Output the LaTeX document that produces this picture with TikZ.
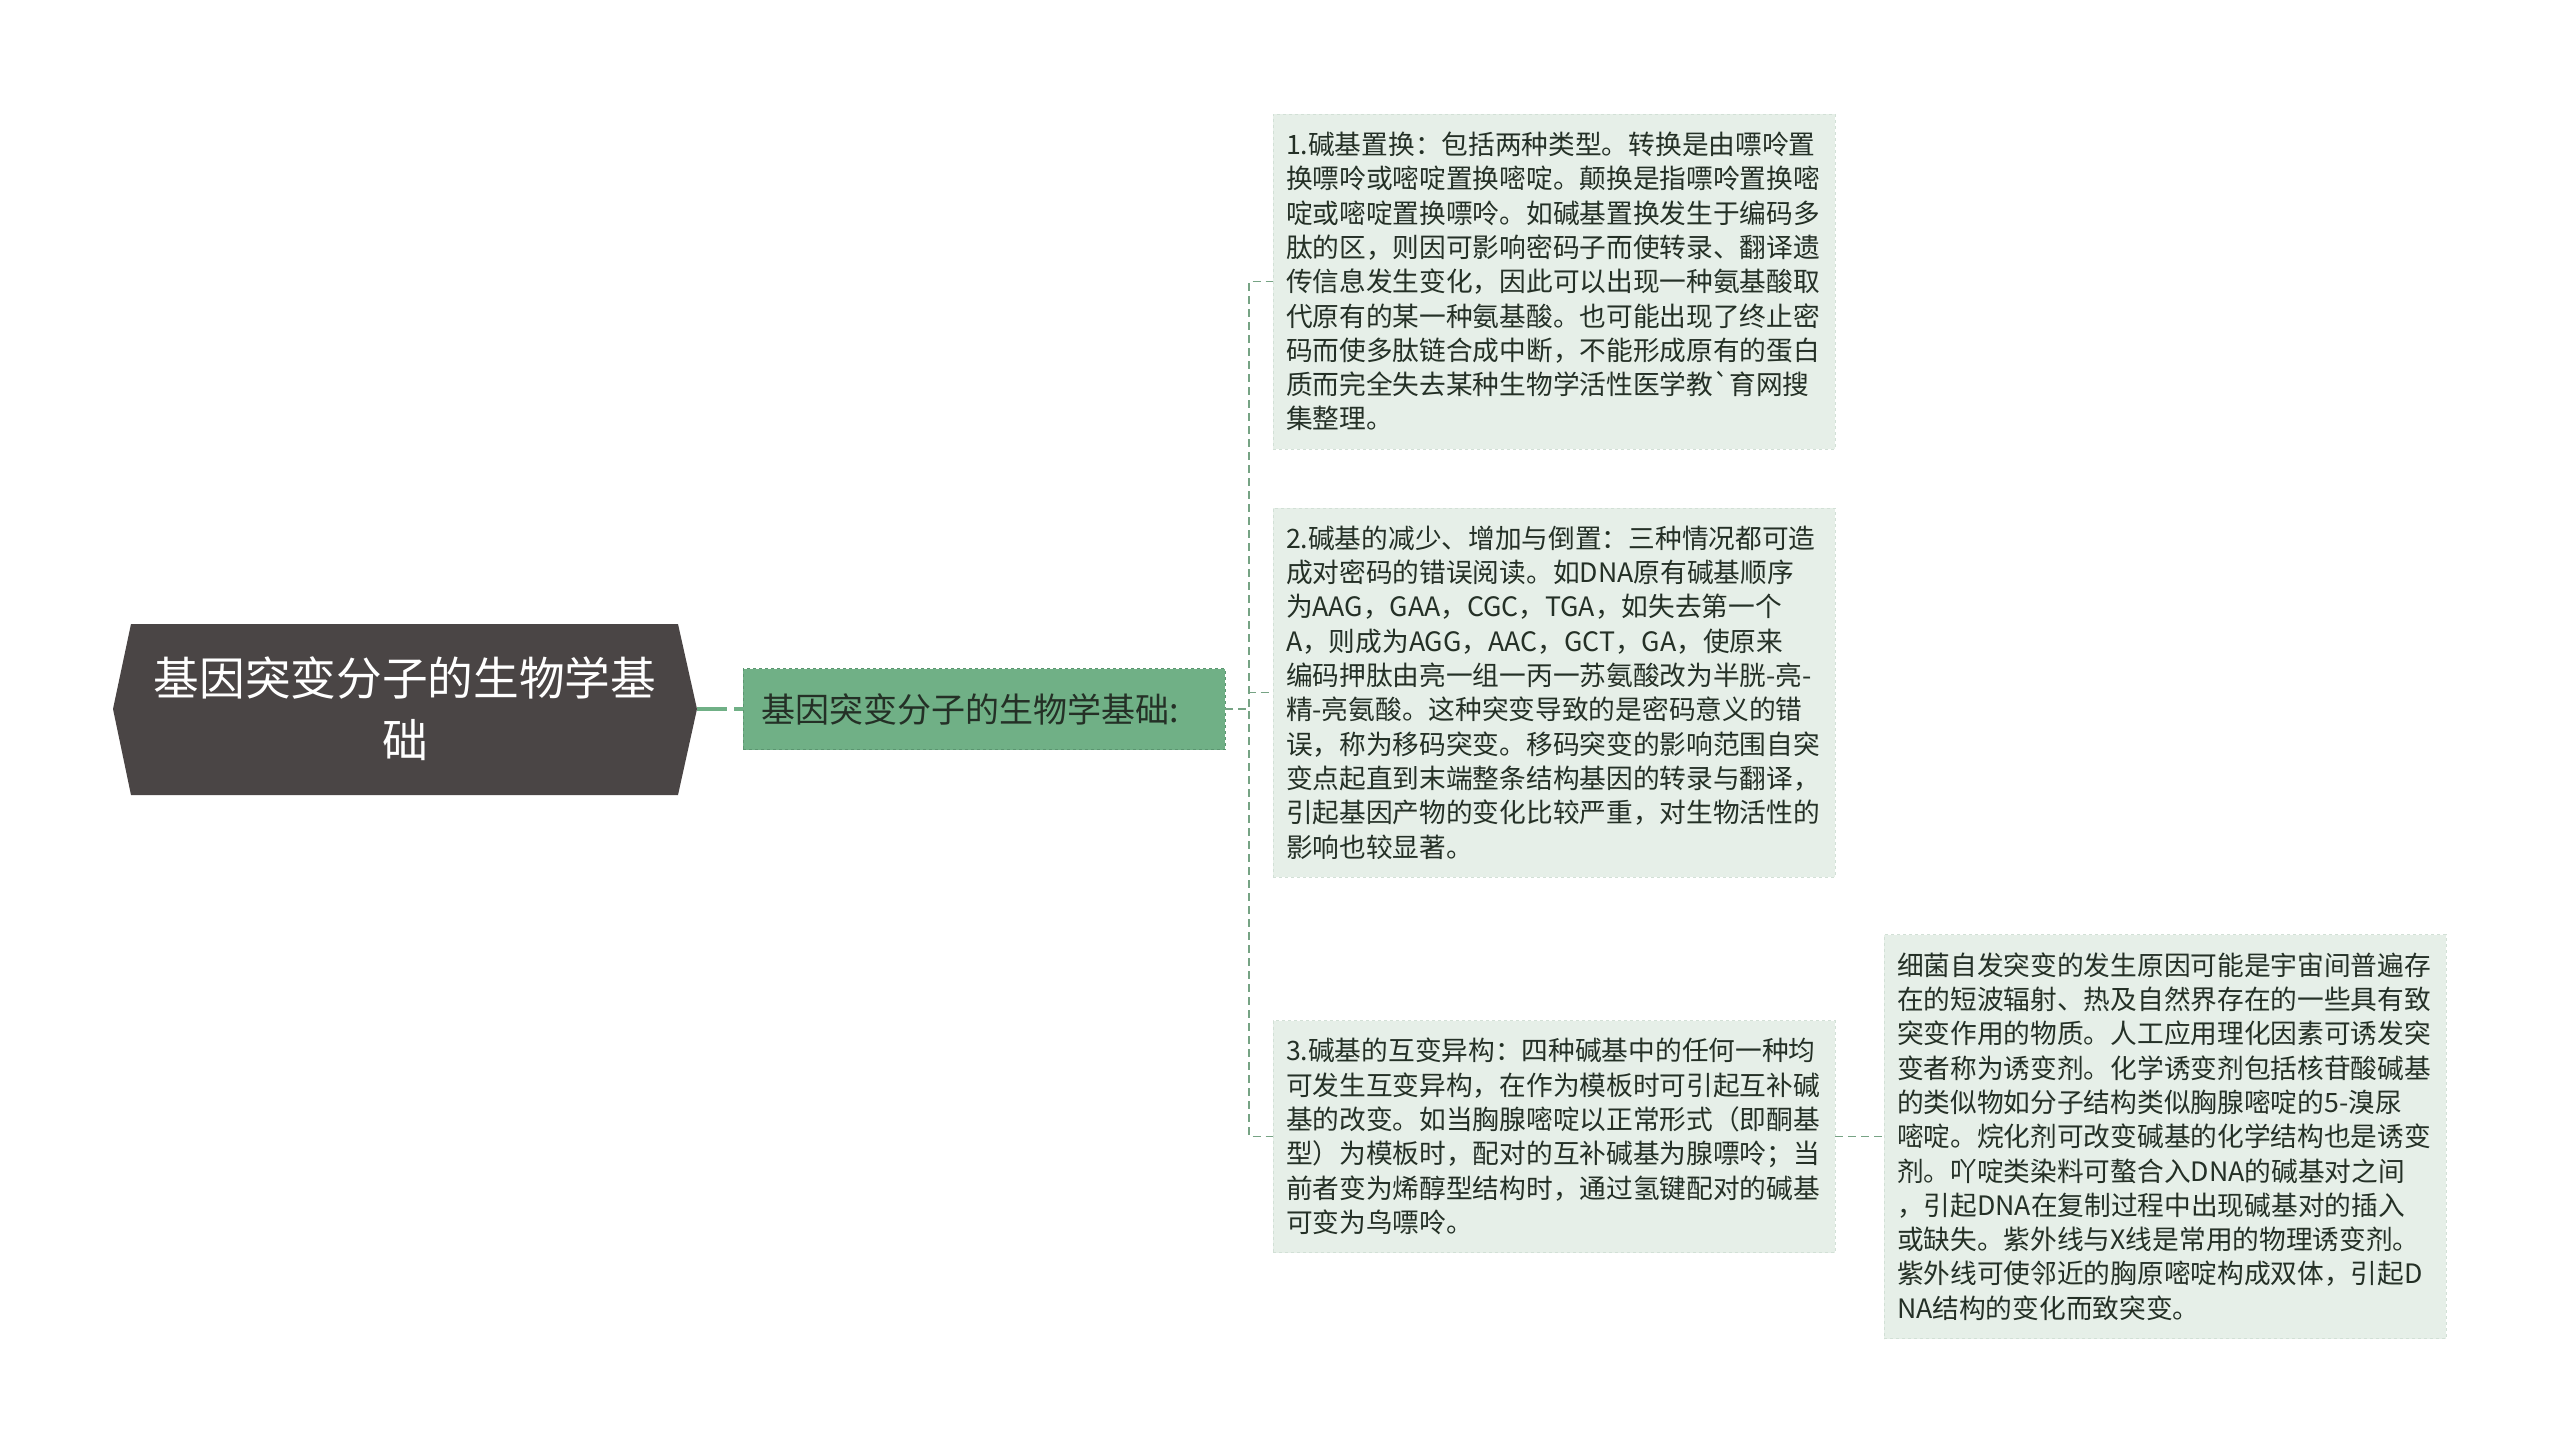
\documentclass[tikz,border=0pt]{standalone}
\usepackage{fontspec}
\newfontfamily\cjkfont{Noto Sans CJK SC}
\usetikzlibrary{positioning}
\definecolor{rootgray}{RGB}{74,69,69}
\definecolor{topicgreen}{RGB}{112,176,134}
\definecolor{topicedge}{RGB}{92,150,113}
\definecolor{notefill}{RGB}{230,239,232}
\definecolor{noteedge}{RGB}{210,224,214}
\definecolor{linkgreen}{RGB}{118,163,132}
\definecolor{notetext}{RGB}{36,48,38}

\begin{document}
\begin{tikzpicture}[x=1pt,y=1pt,yscale=-1,
  roottext/.style={text=white,align=center,font=\cjkfont\fontsize{45.7}{62}\selectfont,inner sep=0pt},
  topicbox/.style={draw=topicedge,dashed,fill=topicgreen,text=notetext,align=left,text width=446pt,inner xsep=18pt,inner ysep=0pt,minimum height=81pt,font=\cjkfont\fontsize{34}{40}\selectfont},
  notebox/.style={draw=noteedge,dashed,fill=notefill,text=notetext,align=left,text width=536pt,inner xsep=13pt,inner ysep=0pt,minimum width=562pt,font=\cjkfont\fontsize{26.7}{34.3}\selectfont},
  link/.style={draw=linkgreen,line width=1.8pt,dash pattern=on 8pt off 5pt},
  rootlink/.style={draw=topicgreen,line width=4pt,dash pattern=on 30pt off 7pt}]
%set diagram size 2560 x 1453
\fill[white] (0,0) rectangle (2560,1453);
\path[use as bounding box] (0,0) rectangle (2560,1453);

%Shape: root hexagon
\fill[rootgray] (113,709) -- (131,624) -- (678,624) -- (697,709) -- (678,795) -- (131,795) -- cycle;
\coordinate (rootR) at (697,709);
% Text Node
\node[roottext] (root) at (405,709) {基因突变分子的生物学基\\础};

% Text Node
\node[topicbox] (topic) at (984,709) {基因突变分子的生物学基础:};

% Text Node
\node[notebox,minimum height=335pt] (note1) at (1554,281.5) {1.碱基置换：包括两种类型。转换是由嘌呤置\\换嘌呤或嘧啶置换嘧啶。颠换是指嘌呤置换嘧\\啶或嘧啶置换嘌呤。如碱基置换发生于编码多\\肽的区，则因可影响密码子而使转录、翻译遗\\传信息发生变化，因此可以出现一种氨基酸取\\代原有的某一种氨基酸。也可能出现了终止密\\码而使多肽链合成中断，不能形成原有的蛋白\\质而完全失去某种生物学活性医学教\symbol{96}育网搜\\集整理。};
% Text Node
\node[notebox,minimum height=369pt] (note2) at (1554,692.5) {2.碱基的减少、增加与倒置：三种情况都可造\\成对密码的错误阅读。如DNA原有碱基顺序\\为AAG，GAA，CGC，TGA，如失去第一个\\A，则成为AGG，AAC，GCT，GA，使原来\\编码押肽由亮一组一丙一苏氨酸改为半胱-亮-\\精-亮氨酸。这种突变导致的是密码意义的错\\误，称为移码突变。移码突变的影响范围自突\\变点起直到末端整条结构基因的转录与翻译，\\引起基因产物的变化比较严重，对生物活性的\\影响也较显著。};
% Text Node
\node[notebox,minimum height=232pt] (note3) at (1554,1136.5) {3.碱基的互变异构：四种碱基中的任何一种均\\可发生互变异构，在作为模板时可引起互补碱\\基的改变。如当胸腺嘧啶以正常形式（即酮基\\型）为模板时，配对的互补碱基为腺嘌呤；当\\前者变为烯醇型结构时，通过氢键配对的碱基\\可变为鸟嘌呤。};
% Text Node
\node[notebox,minimum height=404pt] (note4) at (2165,1136.5) {细菌自发突变的发生原因可能是宇宙间普遍存\\在的短波辐射、热及自然界存在的一些具有致\\突变作用的物质。人工应用理化因素可诱发突\\变者称为诱变剂。化学诱变剂包括核苷酸碱基\\的类似物如分子结构类似胸腺嘧啶的5-溴尿\\嘧啶。烷化剂可改变碱基的化学结构也是诱变\\剂。吖啶类染料可螯合入DNA的碱基对之间\\，引起DNA在复制过程中出现碱基对的插入\\或缺失。紫外线与X线是常用的物理诱变剂。\\紫外线可使邻近的胸原嘧啶构成双体，引起D\\NA结构的变化而致突变。};

%Straight Lines
\draw[rootlink] (rootR) -- (topic.west);
\coordinate (fork) at (1249,709);
\draw[link] (topic.east) -- (fork) |- (note1.west);
\draw[link] (topic.east) -- (fork) |- (note2.west);
\draw[link] (topic.east) -- (fork) |- (note3.west);
\draw[link] (note3.east) -- (note4.west);

\end{tikzpicture}
\end{document}
